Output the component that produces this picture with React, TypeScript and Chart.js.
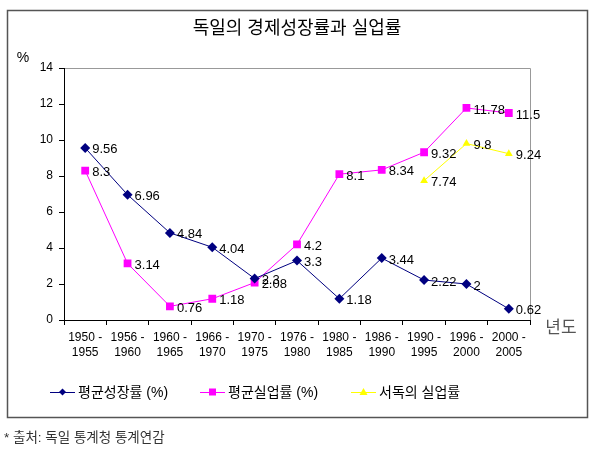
import { useEffect, useRef } from "react"
import { Chart, registerables } from "chart.js"

Chart.register(...registerables)

const FONT = "'Liberation Sans', 'Noto Sans CJK KR', sans-serif"

const periods = [
  ["1950 -", "1955"],
  ["1956 -", "1960"],
  ["1960 -", "1965"],
  ["1966 -", "1970"],
  ["1970 -", "1975"],
  ["1976 -", "1980"],
  ["1980 -", "1985"],
  ["1986 -", "1990"],
  ["1990 -", "1995"],
  ["1996 -", "2000"],
  ["2000 -", "2005"],
]
const growthRate = [9.56, 6.96, 4.84, 4.04, 2.3, 3.3, 1.18, 3.44, 2.22, 2, 0.62]
const unemploymentRate = [8.3, 3.14, 0.76, 1.18, 2.08, 4.2, 8.1, 8.34, 9.32, 11.78, 11.5]
const westUnemployment = [null, null, null, null, null, null, null, null, 7.74, 9.8, 9.24]

const seriesNames = ["평균성장률 (%)", "평균실업률 (%)", "서독의 실업률"]

// frame, titles, legend and value labels drawn around the chart
const decorations = {
  id: "decorations",
  beforeDraw(chart: Chart) {
    const { ctx, chartArea } = chart
    ctx.save()
    ctx.fillStyle = "#fff"
    ctx.fillRect(0, 0, chart.width, chart.height)
    ctx.strokeStyle = "#555"
    ctx.lineWidth = 1.5
    ctx.strokeRect(7.5, 10.5, 580, 407)
    ctx.strokeStyle = "#999"
    ctx.lineWidth = 1
    ctx.beginPath()
    ctx.moveTo(chartArea.left, chartArea.top + 0.5)
    ctx.lineTo(chartArea.right + 0.5, chartArea.top + 0.5)
    ctx.lineTo(chartArea.right + 0.5, chartArea.bottom)
    ctx.stroke()

    ctx.fillStyle = "#000"
    ctx.textAlign = "center"
    ctx.textBaseline = "middle"
    ctx.font = `18px ${FONT}`
    ctx.fillText("독일의 경제성장률과 실업률", 297, 29)
    ctx.font = `14px ${FONT}`
    ctx.fillText("%", 23, 58)
    ctx.fillStyle = "#555"
    ctx.font = `17px ${FONT}`
    ctx.fillText("년도", 561, 328)

    // legend
    const legendX = [50, 200, 351]
    const legendY = 392
    chart.data.datasets.forEach((ds: any, i: number) => {
      const x = legendX[i]
      ctx.strokeStyle = ds.borderColor
      ctx.lineWidth = 1
      ctx.beginPath()
      ctx.moveTo(x, legendY + 0.5)
      ctx.lineTo(x + 25, legendY + 0.5)
      ctx.stroke()
      ctx.fillStyle = ds.backgroundColor
      ctx.beginPath()
      const cx = x + 12.5
      if (ds.pointStyle === "rectRot") {
        ctx.moveTo(cx, legendY - 3.5)
        ctx.lineTo(cx + 3.5, legendY)
        ctx.lineTo(cx, legendY + 3.5)
        ctx.lineTo(cx - 3.5, legendY)
      } else if (ds.pointStyle === "rect") {
        ctx.rect(cx - 3.5, legendY - 3.5, 7, 7)
      } else {
        ctx.moveTo(cx, legendY - 4)
        ctx.lineTo(cx + 4, legendY + 3)
        ctx.lineTo(cx - 4, legendY + 3)
      }
      ctx.closePath()
      ctx.fill()
      ctx.fillStyle = "#000"
      ctx.textAlign = "left"
      ctx.font = `14px ${FONT}`
      ctx.fillText(seriesNames[i], x + 28, legendY + 1)
    })

    ctx.fillStyle = "#333"
    ctx.textAlign = "left"
    ctx.font = `13.5px ${FONT}`
    ctx.fillText("* 출처: 독일 통계청 통계연감", 4, 438)
    ctx.restore()
  },
  afterDatasetsDraw(chart: Chart) {
    const { ctx } = chart
    ctx.save()
    ctx.fillStyle = "#000"
    ctx.font = `13px ${FONT}`
    ctx.textAlign = "left"
    ctx.textBaseline = "middle"
    chart.data.datasets.forEach((ds: any, i: number) => {
      const meta = chart.getDatasetMeta(i)
      meta.data.forEach((pt: any, j: number) => {
        const v = ds.data[j]
        if (v === null || v === undefined) return
        ctx.fillText(String(v), pt.x + 7, pt.y + 2)
      })
    })
    ctx.restore()
  },
}

export default function App() {
  const chartRef = useRef<HTMLCanvasElement>(null)
  const chartInstance = useRef<Chart | null>(null)

  useEffect(() => {
    if (!chartRef.current) return
    if (chartInstance.current) chartInstance.current.destroy()
    const ctx = chartRef.current.getContext("2d")
    if (!ctx) return

    chartInstance.current = new Chart(ctx, {
      type: "line",
      data: {
        labels: periods,
        datasets: [
          {
            label: seriesNames[0],
            data: growthRate,
            borderColor: "#000080",
            backgroundColor: "#000080",
            borderWidth: 1,
            pointStyle: "rectRot",
            pointRadius: 5,
            pointBorderWidth: 0,
          },
          {
            label: seriesNames[1],
            data: unemploymentRate,
            borderColor: "#ff00ff",
            backgroundColor: "#ff00ff",
            borderWidth: 1,
            pointStyle: "rect",
            pointRadius: 5.5,
            pointBorderWidth: 0,
          },
          {
            label: seriesNames[2],
            data: westUnemployment,
            borderColor: "#ffff00",
            backgroundColor: "#ffff00",
            borderWidth: 1,
            pointStyle: "triangle",
            pointRadius: 4.5,
            pointBorderWidth: 0,
          },
        ],
      },
      options: {
        responsive: false,
        animation: false,
        layout: { padding: { left: 0, right: 70, top: 68, bottom: 0 } },
        plugins: {
          legend: { display: false },
          title: { display: false },
          tooltip: { enabled: false },
        },
        scales: {
          x: {
            offset: true,
            afterFit: (s: any) => {
              s.height = 137
            },
            grid: {
              offset: true,
              drawOnChartArea: false,
              tickLength: 5,
              color: "#000",
            },
            border: { color: "#000", width: 1 },
            ticks: {
              color: "#000",
              padding: 5,
              maxRotation: 0,
              autoSkip: false,
              font: { family: FONT, size: 12, lineHeight: 1.25 },
            },
          },
          y: {
            min: 0,
            max: 14,
            afterFit: (s: any) => {
              s.width = 64
            },
            grid: { drawOnChartArea: false, tickLength: 5, color: "#000" },
            border: { color: "#000", width: 1 },
            ticks: {
              stepSize: 2,
              color: "#000",
              padding: 6,
              font: { family: FONT, size: 12 },
            },
          },
        },
      },
      plugins: [decorations],
    })

    return () => {
      if (chartInstance.current) chartInstance.current.destroy()
    }
  }, [])

  return (
    <div style={{ position: "absolute", left: 0, top: 0, width: 600, height: 457 }}>
      <canvas ref={chartRef} width={600} height={457} />
    </div>
  )
}
